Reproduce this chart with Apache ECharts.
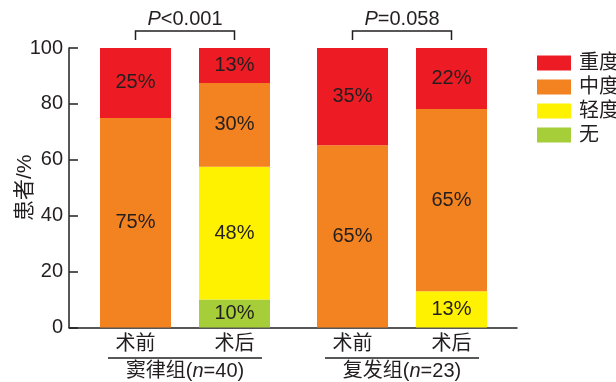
<!DOCTYPE html>
<html>
<head>
<meta charset="utf-8">
<script src="https://cdn.jsdelivr.net/npm/echarts@6/dist/echarts.min.js"></script>
<style>
html, body { margin: 0; padding: 0; background: #fff; }
#main { width: 616px; height: 382px; }
</style>
</head>
<body>
<div id="main"></div>
<script>
// 分组
var groups = ['窦律组', '复发组'];
var groupN = [40, 23];
var phases = ['术前', '术后'];
var levels = ['无', '轻度', '中度', '重度'];
var legendOrder = ['重度', '中度', '轻度', '无'];
var pLabels = ['<0.001', '=0.058'];

// 患者百分比, [窦律组, 复发组]
var preNone = [0, 0];
var preMild = [0, 0];
var preModerate = [75, 65.2];
var preSevere = [25, 34.8];
var postNone = [10, 0];
var postMild = [47.5, 13.0];
var postModerate = [30, 65.2];
var postSevere = [12.5, 21.8];

var colors = {'无': '#a6ce39', '轻度': '#fff200', '中度': '#f38220', '重度': '#ed1c24'};
var txt = '#231f20';
var font = "'Liberation Sans', 'Noto Sans CJK SC', sans-serif";

var stacks = {
    '术前': [preNone, preMild, preModerate, preSevere],
    '术后': [postNone, postMild, postModerate, postSevere]
};

var series = [];
phases.forEach(function (ph) {
    stacks[ph].forEach(function (vals, i) {
        series.push({
            name: levels[i],
            type: 'bar',
            stack: ph,
            xAxisIndex: 1,
            yAxisIndex: 1,
            barWidth: 71,
            barGap: '39.44%',
            itemStyle: {color: colors[levels[i]]},
            label: {
                show: true,
                position: 'inside',
                fontSize: 20,
                fontFamily: font,
                color: txt,
                formatter: function (p) {
                    return p.value > 0 ? Math.round(p.value) + '%' : '';
                }
            },
            data: vals
        });
    });
});

var chart = echarts.init(document.getElementById('main'));
chart.setOption({
    animation: false,
    textStyle: {fontFamily: font, color: txt},
    grid: [
        {left: 69, top: 48, width: 448, height: 279.5, outerBoundsMode: 'none', containLabel: false},
        {left: 76.5, top: 48, width: 434, height: 279.5, outerBoundsMode: 'none', containLabel: false}
    ],
    legend: {
        data: legendOrder,
        orient: 'vertical',
        left: 532,
        top: 48,
        icon: 'rect',
        itemWidth: 34,
        itemHeight: 15,
        itemGap: 4,
        textStyle: {fontSize: 20, color: txt, fontFamily: font, padding: [0, 0, 0, 3]}
    },
    xAxis: [
        {
            gridIndex: 0, type: 'value', min: 0, max: 1,
            axisLine: {show: true, lineStyle: {color: txt, width: 1.5}},
            axisTick: {show: false},
            axisLabel: {show: false},
            splitLine: {show: false}
        },
        {
            gridIndex: 1, type: 'category', data: groups,
            axisLine: {show: false},
            axisTick: {show: false},
            axisLabel: {
                margin: 4,
                interval: 0,
                formatter: function (v, idx) {
                    return '{a|' + phases[0] + '}{s| }{a|' + phases[1] + '}\n' +
                        '{g|' + v + '(}{i|n}{g|=' + groupN[idx] + ')}';
                },
                rich: {
                    a: {fontSize: 20, lineHeight: 26, fontFamily: font, color: txt},
                    s: {width: 59, lineHeight: 26, fontSize: 20},
                    g: {fontSize: 20, lineHeight: 28, fontFamily: font, color: txt},
                    i: {fontSize: 20, lineHeight: 28, fontStyle: 'italic', fontFamily: font, color: txt}
                }
            }
        }
    ],
    yAxis: [
        {
            gridIndex: 0, type: 'value', min: 0, max: 100, interval: 20,
            name: '患者/%',
            nameLocation: 'middle',
            nameGap: 33,
            nameMoveOverlap: false,
            nameTextStyle: {fontSize: 21, color: txt, fontFamily: font},
            axisLine: {show: true, lineStyle: {color: txt, width: 1.5}},
            axisTick: {show: true, inside: true, length: 9, lineStyle: {color: txt, width: 1.5}},
            axisLabel: {fontSize: 20, margin: 6, color: txt, fontFamily: font},
            splitLine: {show: false}
        },
        {gridIndex: 1, type: 'value', min: 0, max: 100, show: false}
    ],
    series: series
});

// 括号与P值
var y0 = chart.convertToPixel({yAxisIndex: 0}, 0);
var y100 = chart.convertToPixel({yAxisIndex: 0}, 100);
var half = 49.5;
var gfx = [];
groups.forEach(function (g, i) {
    var cx = chart.convertToPixel({xAxisIndex: 1}, g);
    gfx.push({
        type: 'line',
        shape: {x1: cx - 77, y1: y0 + 30.5, x2: cx + 77, y2: y0 + 30.5},
        style: {stroke: txt, lineWidth: 1.5}
    });
    gfx.push({
        type: 'polyline',
        shape: {points: [[cx - half, y100 - 8], [cx - half, y100 - 17], [cx + half, y100 - 17], [cx + half, y100 - 8]]},
        style: {stroke: txt, lineWidth: 1.5, fill: null}
    });
    gfx.push({
        type: 'text',
        x: cx,
        y: y100 - 29,
        style: {
            text: '{i|P}{t|' + pLabels[i] + '}',
            align: 'center',
            verticalAlign: 'middle',
            fill: txt,
            rich: {
                i: {fontSize: 20, fontStyle: 'italic', fontFamily: font, fill: txt},
                t: {fontSize: 20, fontFamily: font, fill: txt}
            }
        }
    });
});
chart.setOption({graphic: gfx});
</script>
</body>
</html>
